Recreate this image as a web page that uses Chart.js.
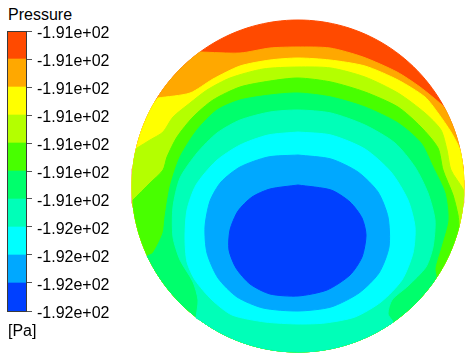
<!DOCTYPE html>
<html>
<head>
<meta charset="utf-8">
<script src="https://cdn.jsdelivr.net/npm/chart.js@4"></script>
<style>
  body { margin: 0; background: #fff; }
  #wrap { position: relative; width: 474px; height: 361px; font-family: "Liberation Sans", Arial, sans-serif; }
  #field { position: absolute; left: 130px; top: 18px; }
  #bar { position: absolute; left: 0; top: 0; }
  .lbl { position: absolute; left: 8px; font-size: 16px; color: #000; }
</style>
</head>
<body>
<div id="wrap">
  <div class="lbl" style="top:6px">Pressure</div>
  <canvas id="bar" width="130" height="361"></canvas>
  <canvas id="field" width="336" height="336"></canvas>
  <div class="lbl" style="top:322px">[Pa]</div>
</div>
<script>
// contour levels, top of the colour bar first [Pa]
const levels = [-190.70, -190.82, -190.94, -191.06, -191.18, -191.30, -191.42, -191.54, -191.66, -191.78, -191.90];
// band colours, lowest pressure first
const bandColors = ['#0040ff', '#00a8ff', '#00ffff', '#00ffb8', '#00ff6c', '#48ff00', '#b4ff00', '#ffff00', '#ffa800', '#ff4a00'];

// domain radius (mm), section centred on 0,0
const radius = 83;

// contour lines, [x, y] in mm
// closed ones go round, open ones run from left wall over the top to right wall
const contour1 = [[0, 0.5], [16.5, -2], [26, -8], [32, -16], [34, -24.5], [32, -35.5], [26, -44.5], [14.5, -52], [0, -55], [-14, -54], [-24, -49], [-31, -41], [-34.5, -32], [-34, -22], [-30, -12.5], [-23, -5.5], [-14, -1.5]];
const contour2 = [[0, 15.5], [16.5, 13.5], [30, 7], [40, -3], [45, -15.5], [45.5, -30.5], [40.5, -43.5], [30.5, -53.5], [16.5, -60.5], [0, -62.5], [-17.5, -61], [-30.5, -55.5], [-40, -46], [-45.5, -33.5], [-46.5, -20.5], [-44, -7.5], [-38.5, 2], [-29, 9.5], [-15, 14.5]];
const contour3 = [[0, 27], [16.5, 25.5], [33.5, 18.5], [46.5, 7], [55, -7], [58.5, -20.5], [57.5, -33.5], [52, -47], [41.5, -58], [28.5, -65.5], [13.5, -68.5], [0, -69], [-16.5, -68], [-33, -64.5], [-43, -57], [-51.5, -47], [-55.5, -38], [-56.5, -26], [-55.5, -12], [-51, 0.5], [-41, 12.5], [-29, 20.5], [-15, 25.5]];
const contour4 = [[-51, -66], [-50, -57], [-52.5, -48], [-59, -37], [-62.5, -25.5], [-62.5, -10.5], [-59, 4], [-50.5, 16.5], [-40.5, 26.5], [-29, 33], [-14, 37], [0, 38], [16.5, 36.5], [33.5, 30.5], [48.5, 21.5], [58.5, 9.5], [65, -3.5], [68.5, -17], [67.5, -30.5], [64, -40.5], [55, -50], [47, -57], [45, -64], [47.5, -68]];
const contour5 = [[-75.5, -35], [-72.5, -33.5], [-67.5, -23.5], [-66.5, -15.5], [-64, -0.5], [-59, 14.5], [-50.5, 28], [-40.5, 38], [-29, 43], [-14, 45.5], [0, 46.5], [16.5, 44.5], [33.5, 39.5], [50, 31.5], [61.5, 21.5], [67.5, 9.5], [73.5, -3.5], [75, -17], [71.5, -30.5], [68.5, -41], [69, -45.5]];
const contour6 = [[-82.5, -7], [-74, 1.5], [-67.5, 8], [-65.5, 14.5], [-60.5, 24.5], [-52.5, 34.5], [-42.5, 43], [-29, 49.5], [-14, 52.5], [0, 54], [16.5, 52], [33.5, 47], [50, 39.5], [61.5, 29.5], [70, 19], [72.5, 8], [77.5, -4.5], [80, -14.5], [80.5, -20]];
const contour7 = [[-80.5, 19], [-74, 23], [-67.5, 27], [-62.5, 34.5], [-54, 41.5], [-45.5, 48], [-34, 54], [-17.5, 58.5], [0, 59.5], [16.5, 59], [33.5, 54.5], [50, 46.5], [63.5, 36.5], [71.5, 28], [74.5, 18], [76.5, 8], [82.5, -1.5]];
const contour8 = [[-70, 44], [-54, 46.5], [-42.5, 53.5], [-29, 60], [-14, 63], [0, 64], [16, 63], [33.5, 60], [50, 53], [63.5, 44.5], [70, 36.5], [76.5, 27], [80, 20.5]];
const contour9 = [[-49, 67], [-29, 66.5], [-14, 69], [-0.5, 69.5], [16, 69], [32.5, 64.5], [49.5, 57], [61, 49.5], [72, 40.5]];

const contours = [contour1, contour2, contour3, contour4, contour5, contour6, contour7, contour8, contour9];
const closedContours = [true, true, true, false, false, false, false, false, false];

// polygon of everything below a contour: the line itself, then the wall back to its start
function regionShape(line, closed) {
  const pts = line.map(p => ({ x: p[0], y: p[1] }));
  if (!closed) {
    const first = line[0], last = line[line.length - 1];
    const a0 = Math.atan2(last[1], last[0]);
    let a1 = Math.atan2(first[1], first[0]);
    while (a1 >= a0) a1 -= 2 * Math.PI;
    const n = Math.ceil((a0 - a1) / (Math.PI / 90));
    for (let i = 1; i < n; i++) {
      const a = a0 - (a0 - a1) * i / n;
      pts.push({ x: radius * Math.cos(a), y: radius * Math.sin(a) });
    }
  }
  pts.push({ x: line[0][0], y: line[0][1] });
  return pts;
}

function wallShape() {
  const pts = [];
  for (let i = 0; i <= 180; i++) {
    const a = i / 180 * 2 * Math.PI;
    pts.push({ x: radius * Math.cos(a), y: radius * Math.sin(a) });
  }
  return pts;
}

// innermost first so it ends up on top
const fieldSets = contours.map((c, i) => ({
  data: regionShape(c, closedContours[i]),
  backgroundColor: bandColors[i],
  borderColor: bandColors[i],
  borderWidth: 1,
  fill: 'shape',
  tension: 0.25,
  pointRadius: 0
}));
fieldSets.push({
  data: wallShape(),
  backgroundColor: bandColors[9],
  borderColor: bandColors[9],
  borderWidth: 1,
  fill: 'shape',
  tension: 0,
  pointRadius: 0
});

new Chart(document.getElementById('field'), {
  type: 'line',
  data: { datasets: fieldSets },
  options: {
    responsive: false,
    animation: false,
    events: [],
    layout: { padding: 0 },
    plugins: { legend: { display: false }, tooltip: { enabled: false } },
    scales: {
      x: { type: 'linear', min: -84, max: 84, display: false },
      y: { type: 'linear', min: -84, max: 84, display: false }
    }
  }
});

// colour bar
const barSets = bandColors.map((col, i) => ({
  data: [[levels[10 - i], levels[9 - i]]],
  backgroundColor: col,
  borderWidth: 0,
  grouped: false,
  barPercentage: 1,
  categoryPercentage: 1
}));

const frame = {
  id: 'frame',
  afterDatasetsDraw(chart) {
    const a = chart.chartArea;
    const ctx = chart.ctx;
    ctx.save();
    ctx.strokeStyle = '#3a3a3a';
    ctx.lineWidth = 1;
    ctx.strokeRect(a.left + 0.5, a.top + 0.5, a.right - a.left - 1, a.bottom - a.top);
    ctx.restore();
  }
};

new Chart(document.getElementById('bar'), {
  type: 'bar',
  data: { labels: [''], datasets: barSets },
  plugins: [frame],
  options: {
    responsive: false,
    animation: false,
    events: [],
    layout: { padding: { left: 7, top: 31, bottom: 50, right: 0 } },
    plugins: { legend: { display: false }, tooltip: { enabled: false } },
    scales: {
      x: { display: false },
      y: {
        position: 'right',
        min: levels[10],
        max: levels[0],
        afterFit(scale) { scale.width = 103; },
        afterBuildTicks(scale) { scale.ticks = levels.map(v => ({ value: v })); },
        border: { display: false },
        grid: { drawOnChartArea: false, drawTicks: true, tickLength: 5, tickColor: '#555' },
        ticks: {
          color: '#000',
          padding: 5,
          labelOffset: 3,
          font: { family: '"Liberation Sans", Arial, sans-serif', size: 16 },
          callback: v => (v / 100).toFixed(2) + 'e+02'
        }
      }
    }
  }
});
</script>
</body>
</html>
